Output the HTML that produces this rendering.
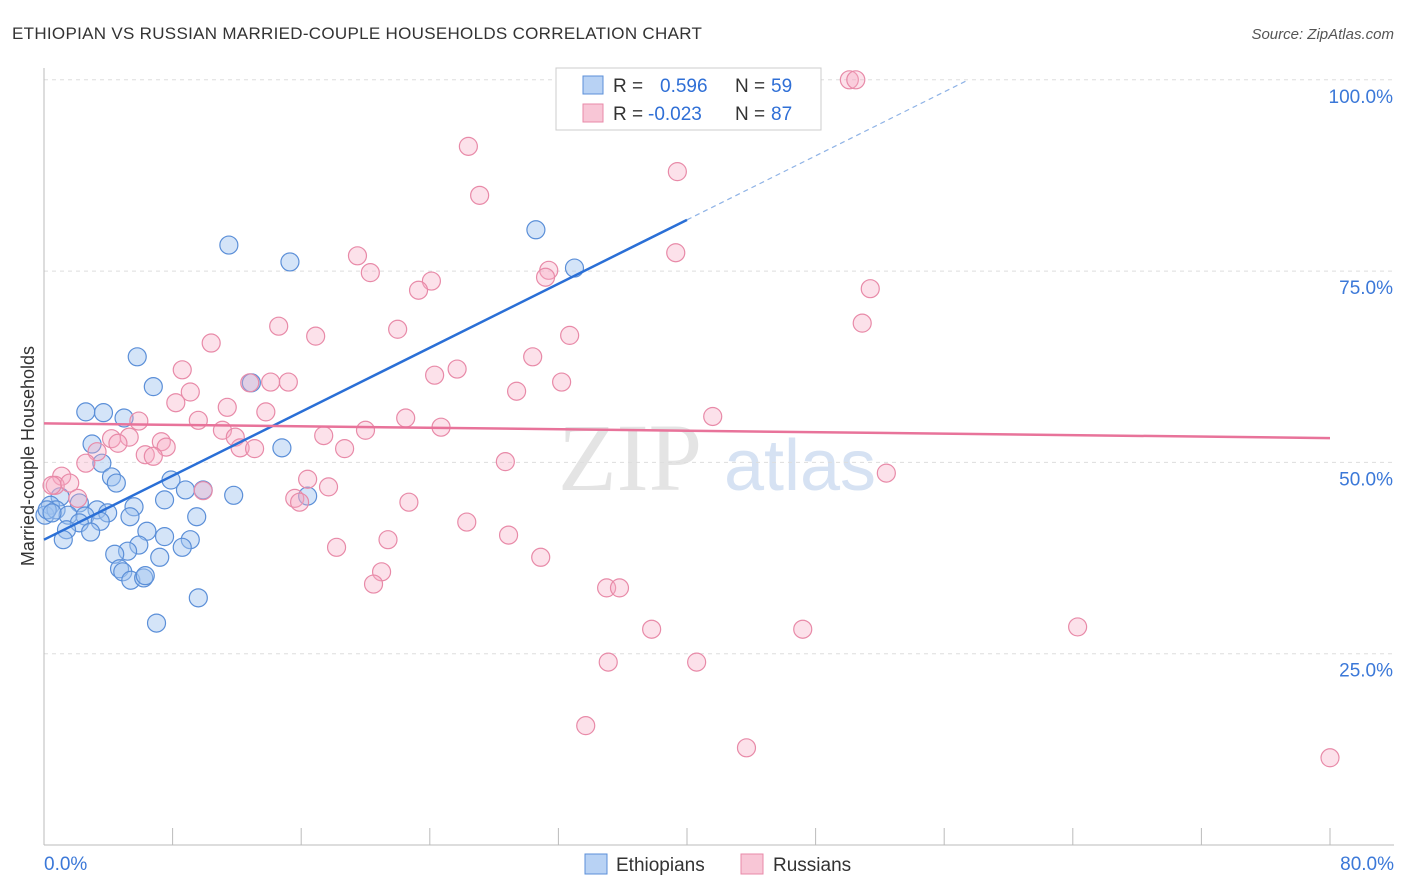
<!DOCTYPE html>
<html><head><meta charset="utf-8"><style>
body{margin:0;background:#fff;font-family:"Liberation Sans",sans-serif}
svg{display:block}
</style></head><body>
<svg id="chart" width="1406" height="892">
<text x="12" y="39" font-size="17" fill="#333" letter-spacing="0.3">ETHIOPIAN VS RUSSIAN MARRIED-COUPLE HOUSEHOLDS CORRELATION CHART</text>
<text x="1394" y="39" font-size="15" fill="#555" font-style="italic" text-anchor="end">Source: ZipAtlas.com</text>
<text x="630" y="490" font-size="96" fill="#e4e4e4" font-family="Liberation Serif" text-anchor="middle">ZIP</text>
<text x="800" y="490" font-size="72" fill="#d6e2f3" text-anchor="middle">atlas</text>
<g id="grid"></g><g id="axes"></g><g id="pts"></g><g id="lines"></g>
<text transform="translate(34,456) rotate(-90)" font-size="18" fill="#333" text-anchor="middle">Married-couple Households</text>
<g>
<rect x="556" y="68" width="265" height="62" fill="#fff" stroke="#ccc"/>
<rect x="583" y="76" width="20" height="18" fill="#b8d2f4" stroke="#5b8fd8"/>
<text x="613" y="92" font-size="19" fill="#333">R = </text><text x="660" y="92" font-size="19" fill="#2f6fd6">0.596</text>
<text x="735" y="92" font-size="19" fill="#333">N = </text><text x="771" y="92" font-size="19" fill="#2f6fd6">59</text>
<rect x="583" y="104" width="20" height="18" fill="#f8c6d6" stroke="#e88aa8"/>
<text x="613" y="120" font-size="19" fill="#333">R = </text><text x="648" y="120" font-size="19" fill="#2f6fd6">-0.023</text>
<text x="735" y="120" font-size="19" fill="#333">N = </text><text x="771" y="120" font-size="19" fill="#2f6fd6">87</text>
</g>
<g>
<rect x="585" y="854" width="22" height="20" fill="#b8d2f4" stroke="#5b8fd8"/>
<text x="616" y="871" font-size="19" fill="#333">Ethiopians</text>
<rect x="741" y="854" width="22" height="20" fill="#f8c6d6" stroke="#e88aa8"/>
<text x="773" y="871" font-size="19" fill="#333">Russians</text>
</g>
</svg>
<script>
const blueX=[11.5,15.3,30.6,33.0,5.8,6.8,12.9,2.6,3.7,4.98,2.99,14.8,3.6,4.2,4.5,7.9,8.8,9.9,11.8,16.4,7.5,1.0,2.2,0.4,5.6,3.3,3.96,0.06,0.75,1.5,2.55,5.35,9.5,3.5,2.2,1.4,2.9,6.4,1.2,7.5,9.1,5.9,5.2,4.4,8.6,7.2,4.7,4.9,5.4,6.2,6.3,9.6,7.0,0.2,0.5];
const blueY=[78.4,76.2,80.4,75.4,63.8,59.9,60.4,56.6,56.5,55.8,52.4,51.9,49.9,48.1,47.3,47.7,46.4,46.4,45.7,45.6,45.1,45.5,44.7,44.4,44.2,43.8,43.4,43.1,43.8,43.1,43.0,42.9,42.9,42.3,42.1,41.2,40.9,41.0,39.9,40.3,39.9,39.2,38.4,38.0,38.9,37.6,36.1,35.7,34.6,34.9,35.2,32.3,29.0,43.8,43.4];
const pinkX=[37.3,50.1,50.5,26.4,39.4,27.1,19.5,20.3,31.4,31.2,39.3,24.1,23.3,51.4,14.6,16.9,22.0,50.9,32.7,10.4,30.4,25.7,24.3,8.6,12.8,14.1,15.2,32.2,29.4,9.1,8.2,11.4,13.8,22.5,41.6,5.9,9.6,11.1,20.0,24.7,17.4,11.9,4.2,5.3,4.6,7.3,7.6,12.2,13.1,18.7,3.3,6.3,6.8,2.6,28.7,52.4,16.4,1.1,0.7,1.6,17.7,9.9,2.1,15.6,15.9,22.7,26.3,28.9,21.4,18.2,30.9,21.0,20.5,35.0,35.8,37.8,47.2,64.3,35.1,40.6,33.7,43.7,80.0,0.5];
const pinkY=[100,100,100,91.3,88.0,84.9,77.0,74.8,75.1,74.2,77.4,73.7,72.5,72.7,67.8,66.5,67.4,68.2,66.6,65.6,63.8,62.2,61.4,62.1,60.4,60.5,60.5,60.5,59.3,59.2,57.8,57.2,56.6,55.8,56.0,55.4,55.5,54.2,54.2,54.6,53.5,53.3,53.1,53.3,52.5,52.7,52.0,51.9,51.8,51.8,51.4,51.0,50.8,49.9,50.1,48.6,47.8,48.2,47.0,47.3,46.8,46.3,45.3,45.3,44.8,44.8,42.2,40.5,39.9,38.9,37.6,35.7,34.1,33.6,33.6,28.2,28.2,28.5,23.9,23.9,15.6,12.7,11.4,47.0];
const blueLine=[39.9,1.045];   // intercept, slope
const pinkLine=[55.1,-0.024];
const xTicks=[0,8,16,24,32,40,48,56,64,72,80];
const yTicks=[25,50,75,100];
const NS='http://www.w3.org/2000/svg';
const X=v=>44+v*16.075, Y=v=>845-v*7.652;
function mk(tag,attrs,parent){const e=document.createElementNS(NS,tag);for(const k in attrs)e.setAttribute(k,attrs[k]);document.getElementById(parent).appendChild(e);return e;}
yTicks.forEach(t=>{
 const g=mk('line',{x1:44,x2:1394,y1:Y(t),y2:Y(t),stroke:'#ddd','stroke-dasharray':'4,4'},'grid');
 
 
 const l=mk('text',{x:1393,y:Y(t)+23,'font-size':19,fill:'#3b78d8','text-anchor':'end'},'grid');
 l.textContent=t.toFixed(1)+'%';
 
 
});
const ax=mk('line',{x1:44,x2:44,y1:68,y2:845,stroke:'#bbb'},'axes');


const bx=mk('line',{x1:44,x2:1394,y1:845,y2:845,stroke:'#bbb'},'axes');


xTicks.forEach(t=>{
 const k=mk('line',{x1:X(t),x2:X(t),y1:828,y2:845,stroke:'#bbb'},'axes');
 
 
});
[[0,'start',44],[80,'end',1394]].forEach(([t,a,px])=>{
 const l=mk('text',{x:px,y:870,'font-size':19,fill:'#3b78d8','text-anchor':a},'axes');
 l.textContent=t.toFixed(1)+'%';
 
 
});
blueX.forEach((v,i)=>{
 const c=mk('circle',{cx:X(v),cy:Y(blueY[i]),r:9,fill:'rgba(160,196,240,0.45)',stroke:'#5b8fd8','stroke-width':1.2},'pts');
 
 
});
pinkX.forEach((v,i)=>{
 const c=mk('circle',{cx:X(v),cy:Y(pinkY[i]),r:9,fill:'rgba(245,170,195,0.35)',stroke:'#e88aa8','stroke-width':1.2},'pts');
 
 
});
const bEnd=40, bDash=(100-blueLine[0])/blueLine[1];
const b1=mk('line',{x1:X(0),y1:Y(blueLine[0]),x2:X(bEnd),y2:Y(blueLine[0]+blueLine[1]*bEnd),stroke:'#2a6fd6','stroke-width':2.5},'lines');


const b2=mk('line',{x1:X(bEnd),y1:Y(blueLine[0]+blueLine[1]*bEnd),x2:X(bDash),y2:Y(100),stroke:'#8fb3e6','stroke-width':1.2,'stroke-dasharray':'5,4'},'lines');


const p1=mk('line',{x1:X(0),y1:Y(pinkLine[0]),x2:X(80),y2:Y(pinkLine[0]+pinkLine[1]*80),stroke:'#e8739a','stroke-width':2.5},'lines');


</script>
</body></html>
